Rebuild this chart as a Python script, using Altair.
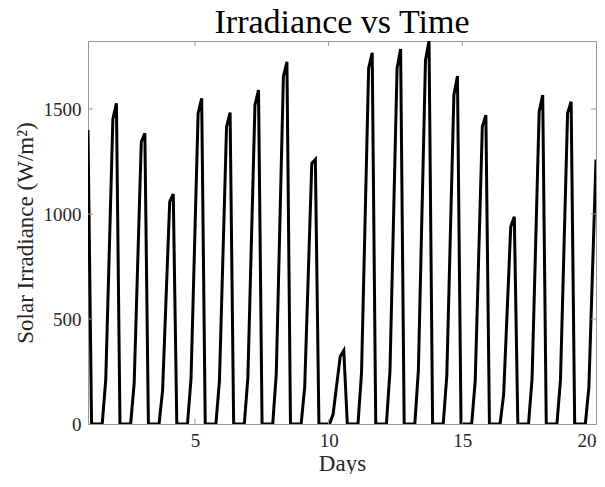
import altair as alt
import pandas as pd

# ---- data (3-hourly samples, 8 per cycle) ----
START_VALUE = 1400
peaks = [1527, 1384, 1095, 1551, 1483, 1590, 1725, 1260, 350,
         1768, 1786, 1824, 1657, 1471, 987, 1567, 1535]
shoulders = [1452, 1344, 1059, 1480, 1416, 1519, 1654, 1241, 322,
             1694, 1694, 1733, 1567, 1416, 940, 1487, 1480]
mids = [830, 770, 610, 850, 810, 870, 945, 710, 185,
        970, 975, 995, 900, 810, 540, 850, 845]
smalls = [212, 195, 160, 215, 205, 220, 240, 175, 47,
          245, 250, 255, 230, 205, 140, 215, 210]
final_small, final_mid, final_shoulder = 175, 720, 1260
night_zeros = [0, 0, 0, 0]

DAY_START, DAY_END = 1, 20
x_ticks = [5, 10, 15, 20]
y_ticks = [0, 500, 1000, 1500]
Y_MAX = 1824

values = [START_VALUE]
for s, m, sh, p in zip(smalls, mids, shoulders, peaks):
    values += night_zeros + [s, m, sh, p]
values += night_zeros + [final_small, final_mid, final_shoulder]
n = len(values)
days = [DAY_START + (DAY_END - DAY_START) * i / (n - 1) for i in range(n)]

df = pd.DataFrame({"day": days, "irr": values})

W, H = 508, 383
FONT = "Liberation Serif"
TXT = "#262626"
FRAME = "#999999"

xscale = alt.Scale(domain=[DAY_START, DAY_END], nice=False, zero=False)
yscale = alt.Scale(domain=[0, Y_MAX], nice=False, zero=False)
x_axis = alt.Axis(values=x_ticks, format="d", title="Days", ticks=False, domain=False,
                  grid=False, labelFlush=True, labelBaseline="alphabetic",
                  labelPadding=22, labelFontSize=19,
                  titleBaseline="alphabetic", titleY=46, titleFontSize=23)
y_axis = alt.Axis(values=y_ticks, format="d", title="Solar Irradiance (W/m²)",
                  ticks=False, domain=False, grid=False, labelFlush=False,
                  labelPadding=7, labelFontSize=19, titleBaseline="alphabetic",
                  titleAngle=270, titleX=-56, titleFontSize=23)

line = alt.Chart(df).mark_line(color="black", strokeWidth=3, clip=True).encode(
    x=alt.X("day:Q", scale=xscale, axis=x_axis),
    y=alt.Y("irr:Q", scale=yscale, axis=y_axis),
)

xt = pd.DataFrame({"day": x_ticks[:-1]})
yt = pd.DataFrame({"irr": y_ticks[1:]})

xb = alt.Chart(xt).mark_rule(color=FRAME, strokeWidth=1).encode(
    x=alt.X("day:Q", scale=xscale, axis=x_axis), y=alt.value(H), y2=alt.value(H - 5))
xtop = alt.Chart(xt).mark_rule(color=FRAME, strokeWidth=1).encode(
    x=alt.X("day:Q", scale=xscale, axis=x_axis), y=alt.value(0), y2=alt.value(5))
yl = alt.Chart(yt).mark_rule(color=FRAME, strokeWidth=1).encode(
    y=alt.Y("irr:Q", scale=yscale, axis=y_axis), x=alt.value(0), x2=alt.value(5))
yr = alt.Chart(yt).mark_rule(color=FRAME, strokeWidth=1).encode(
    y=alt.Y("irr:Q", scale=yscale, axis=y_axis), x=alt.value(W), x2=alt.value(W - 5))

chart = alt.layer(line, xb, xtop, yl, yr).properties(
    width=W, height=H,
    title=alt.TitleParams("Irradiance vs Time", font=FONT, fontSize=34,
                          fontWeight="normal", color="black", offset=1),
    autosize=alt.AutoSizeParams(type="none"),
    padding={"left": 80, "top": 33, "right": 1, "bottom": 50},
).configure_view(stroke=FRAME, strokeWidth=1).configure_axis(
    labelFont=FONT, labelColor=TXT,
    titleFont=FONT, titleFontWeight="normal", titleColor=TXT,
)

chart.save("out.html", embed_options={"renderer": "svg", "actions": False})
